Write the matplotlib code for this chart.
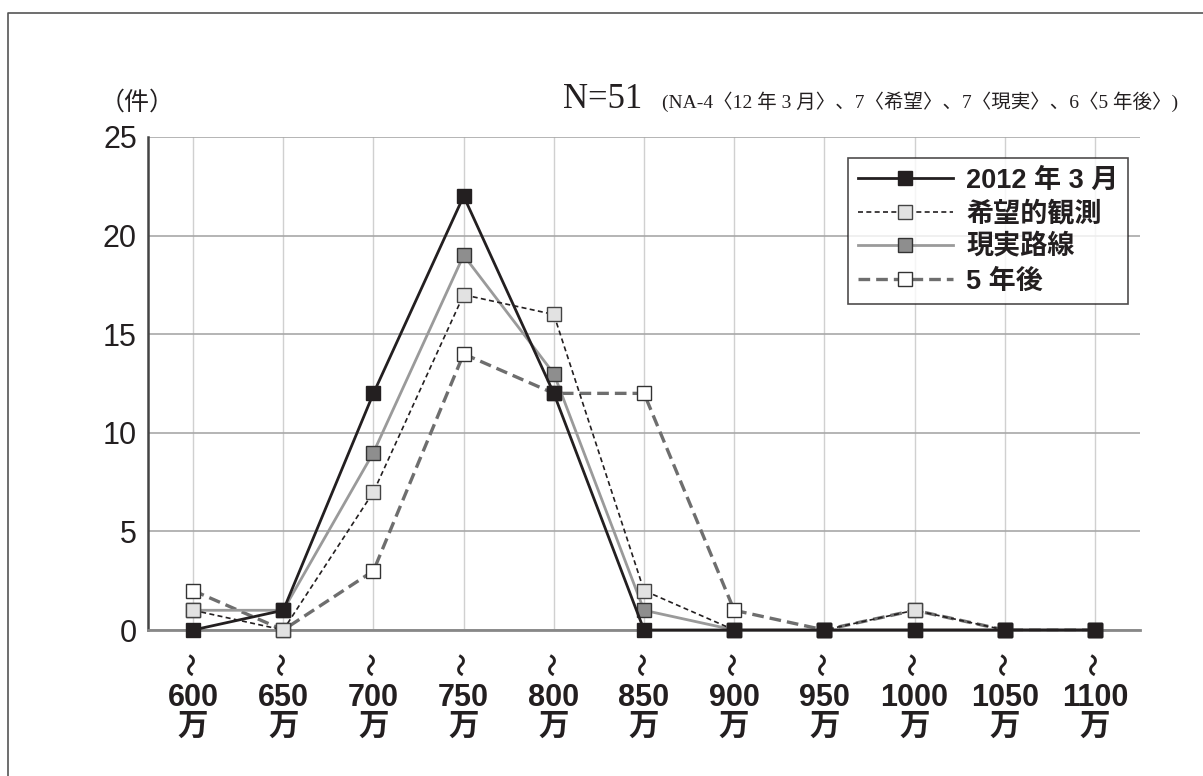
import numpy as np
import matplotlib.pyplot as plt
from matplotlib.lines import Line2D

cats = [600, 650, 700, 750, 800, 850, 900, 950, 1000, 1050, 1100]
s2012 = [0, 1, 12, 22, 12, 0, 0, 0, 0, 0, 0]
kibou = [1, 0, 7, 17, 16, 2, 0, 0, 1, 0, 0]
genjitsu = [1, 1, 9, 19, 13, 1, 0, 0, 0, 0, 0]
gonen = [2, 0, 3, 14, 12, 12, 1, 0, 1, 0, 0]
names = ["2012 年 3 月", "希望的観測", "現実路線", "5 年後"]
yticks = [0, 5, 10, 15, 20, 25]

sans = ["Liberation Sans", "Noto Sans CJK JP"]
serif = ["Liberation Serif", "Noto Sans CJK JP"]

fig = plt.figure(figsize=(12.03, 7.76), dpi=100)
ax = fig.add_axes([148 / 1203, 146 / 776, 992 / 1203, 493 / 776])

x = np.arange(len(cats))

# 5年後 (bottom), 現実路線, 希望的観測, 2012 (top)
ax.plot(x, gonen, color="#6e6e6e", lw=2.4, ls=(0, (3.5, 1.8)), marker="s", ms=10,
        mfc="white", mec="#333333", mew=1.0, zorder=3, label=names[3], clip_on=False)
ax.plot(x, genjitsu, color="#9a9a9a", lw=2.0, ls="-", marker="s", ms=10,
        mfc="#8e8e8e", mec="#333333", mew=1.0, zorder=4, label=names[2], clip_on=False)
ax.plot(x, kibou, color="#231f20", lw=1.2, ls=(0, (3, 2)), marker="s", ms=10,
        mfc="#e2e2e2", mec="#444444", mew=1.0, zorder=5, label=names[1], clip_on=False)
ax.plot(x, s2012, color="#231f20", lw=2.0, ls="-", marker="s", ms=10,
        mfc="#231f20", mec="#231f20", mew=1.0, zorder=6, label=names[0], clip_on=False)

ax.set_xlim(-0.5, len(cats) - 0.5)
ax.set_ylim(0, 25)
ax.set_yticks(yticks)
ax.set_yticklabels([str(v) for v in yticks], family="Liberation Sans", fontsize=22,
                   color="#231f20")
ax.set_xticks(x)
ax.set_xticklabels([f"{c}\n万" for c in cats], family=sans, fontsize=22,
                   fontweight="bold", color="#231f20", linespacing=0.95)
ax.tick_params(axis="y", length=0, pad=8)
ax.tick_params(axis="x", length=0, pad=38)
for xi in x:
    ax.text(xi, -0.07, "〜", transform=ax.get_xaxis_transform(), ha="center",
            va="center", rotation=90, family="Noto Sans CJK JP", fontsize=17,
            fontweight="bold", color="#231f20")

ax.grid(axis="x", color="#d0d0d0", lw=1.0)
ax.grid(axis="y", color="#a8a8a8", lw=1.2)
ax.set_axisbelow(True)
for s in ["top", "right"]:
    ax.spines[s].set_visible(False)
ax.spines["left"].set_color("#444444")
ax.spines["left"].set_linewidth(1.8)
ax.spines["bottom"].set_color("#888888")
ax.spines["bottom"].set_linewidth(2.0)

handles, labels = ax.get_legend_handles_labels()
order = [3, 2, 1, 0]
leg = ax.legend([handles[i] for i in order], [labels[i] for i in order],
                loc="upper right", bbox_to_anchor=(0.988, 0.957), borderaxespad=0,
                handlelength=3.5, prop={"family": sans, "weight": "bold", "size": 19.5},
                frameon=True, fancybox=False, edgecolor="#231f20",
                borderpad=0.35, labelspacing=0.28, handletextpad=0.5)
leg.get_frame().set_linewidth(1.2)
for t in leg.get_texts():
    t.set_color("#231f20")

fig.text(100 / 1203, 1 - 103 / 776, "（件）", family=sans, fontsize=18,
         ha="left", va="center", color="#231f20")
fig.text(563 / 1203, 1 - 100 / 776, "N=51", family=serif, fontsize=25,
         ha="left", va="center", color="#231f20")
fig.text(1178 / 1203, 1 - 102 / 776,
         "(NA-4〈12 年 3 月〉、7〈希望〉、7〈現実〉、6〈5 年後〉)",
         family=serif, fontsize=14, ha="right", va="center", color="#231f20")

# outer frame (top and left edges)
fig.add_artist(Line2D([8 / 1203, 8 / 1203, 1], [0, 1 - 13 / 776, 1 - 13 / 776],
                      transform=fig.transFigure, color="#555555", lw=1.2))

fig.savefig("out.png", dpi=100)
